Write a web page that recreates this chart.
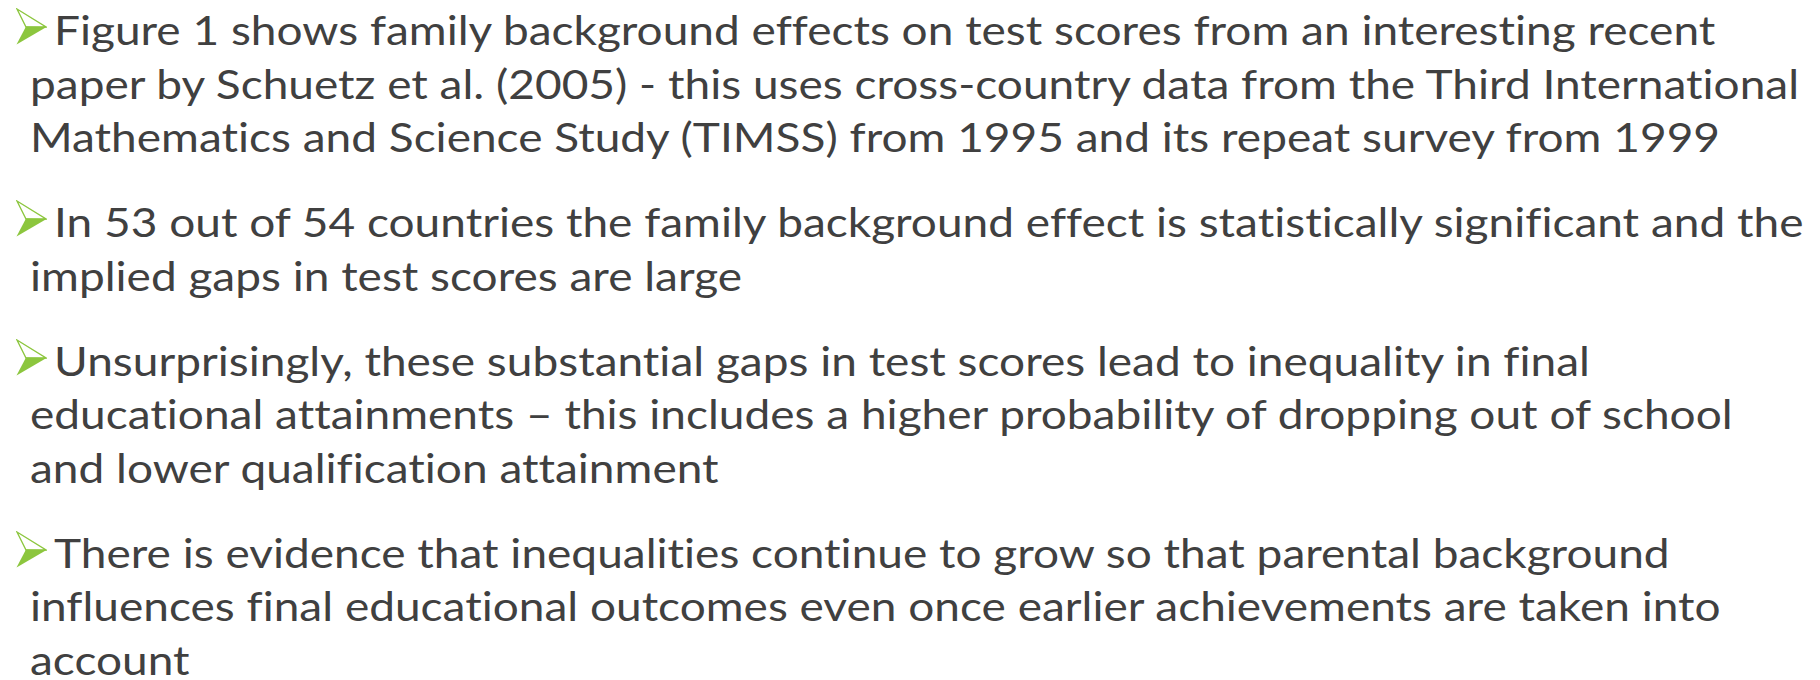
<!DOCTYPE html>
<html>
<head>
<meta charset="utf-8">
<script src="https://cdn.jsdelivr.net/npm/chart.js@4.4.0/dist/chart.umd.min.js"></script>
<style>
  html, body {
    margin: 0;
    padding: 0;
    background: #ffffff;
  }
  body {
    width: 1820px;
    height: 680px;
    overflow: hidden;
    position: relative;
  }
  #slide {
    position: absolute;
    left: 0;
    top: 3px;
    width: 1820px;
    font-family: Lato, "Open Sans", sans-serif;
    font-size: 41.5px;
    line-height: 53.5px;
    color: #404040;
    font-variant-ligatures: none;
  }
  .bullet {
    position: relative;
    padding-left: 30px;
    margin-bottom: 31.5px;
  }
  .line {
    white-space: nowrap;
  }
  .line span.txt {
    display: inline-block;
    transform-origin: 0 50%;
  }
  .arrow {
    display: inline-block;
    margin-left: -14px;
    margin-right: 7px;
    vertical-align: baseline;
  }
</style>
</head>
<body>
<div id="slide"></div>

<script>
// Slide text, one array per bullet (line breaks as in the original)
const bullet1 = [
    'Figure 1 shows family background effects on test scores from an interesting recent',
    'paper by Schuetz et al. (2005) - this uses cross-country data from the Third International',
    'Mathematics and Science Study (TIMSS) from 1995 and its repeat survey from 1999'
];
const bullet2 = [
    'In 53 out of 54 countries the family background effect is statistically significant and the',
    'implied gaps in test scores are large'
];
const bullet3 = [
    'Unsurprisingly, these substantial gaps in test scores lead to inequality in final',
    'educational attainments \u2013 this includes a higher probability of dropping out of school',
    'and lower qualification attainment'
];
const bullet4 = [
    'There is evidence that inequalities continue to grow so that parental background',
    'influences final educational outcomes even once earlier achievements are taken into',
    'account'
];

const bullets = [bullet1, bullet2, bullet3, bullet4];

// Green arrowhead bullet (outlined upper face, filled lower face)
function arrowSvg() {
    const green = '#8cc63e';
    return '<svg class="arrow" width="31" height="37" viewBox="0 0 31 37">' +
        '<polygon points="1,1 30,19 10,19" fill="#ffffff" stroke="' + green + '" stroke-width="1.3" stroke-linejoin="miter"/>' +
        '<polygon points="10,18.5 30.5,19 0.5,36.5" fill="' + green + '"/>' +
        '</svg>';
}

function buildSlide() {
    const slide = document.getElementById('slide');
    bullets.forEach(lines => {
        const p = document.createElement('div');
        p.className = 'bullet';
        lines.forEach((text, i) => {
            const line = document.createElement('div');
            line.className = 'line';
            if (i === 0) line.insertAdjacentHTML('beforeend', arrowSvg());
            const span = document.createElement('span');
            span.className = 'txt';
            span.textContent = text;
            line.appendChild(span);
            p.appendChild(line);
        });
        slide.appendChild(p);
    });

    // The original face is narrower than Lato: squeeze the lines so the
    // longest one spans the same width as in the original slide
    const ref = slide.children[0].children[1].querySelector('.txt');
    const scale = 1769 / ref.getBoundingClientRect().width;
    slide.querySelectorAll('.txt').forEach(s => {
        s.style.transform = 'scaleX(' + scale.toFixed(4) + ')';
    });
}

document.addEventListener('DOMContentLoaded', buildSlide);
</script>
</body>
</html>
